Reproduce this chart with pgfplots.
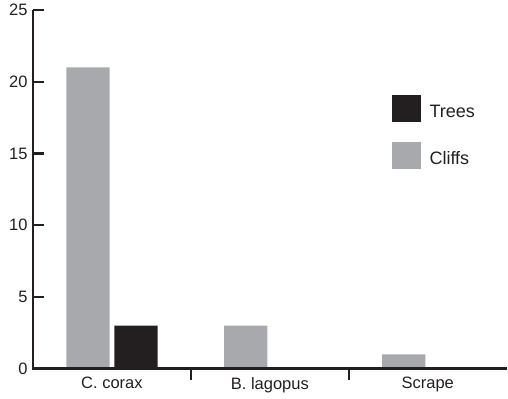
\documentclass[border=0pt]{standalone}
\usepackage{fontspec}
\setmainfont{Liberation Sans}
\usepackage{pgfplots}
\pgfplotsset{compat=1.18}

\definecolor{inkdark}{HTML}{231F20}
\definecolor{cliffgray}{HTML}{A7A9AC}

\begin{document}
\begin{tikzpicture}
\begin{axis}[
  scale only axis,
  clip=false,
  width=474pt, height=359pt,
  xmin=-0.5, xmax=2.5,
  ymin=0, ymax=25,
  axis line style={draw=none},
  tick align=inside,
  xtick pos=bottom, ytick pos=left,
  ytick={0,5,10,15,20,25},
  xtick={0.5,1.5},
  xticklabels={},
  extra x ticks={0,1,2},
  extra x tick labels={C. corax, B. lagopus, Scrape},
  extra x tick style={major tick length=0pt},
  major tick style={line width=2.4pt, draw=inkdark},
  major tick length=11pt,
  ticklabel style={font=\fontsize{16.5}{19}\selectfont, text=inkdark},
  /pgf/number format/assume math mode=true,
  yticklabel style={xshift=-2pt},
  xticklabel style={yshift=-5pt},
  ybar, bar width=0.274,
  legend style={draw=none, fill=none, at={(0.757,0.763)}, anchor=north west,
    font=\fontsize{18}{20}\selectfont, text=inkdark,
    row sep=20pt, inner sep=0pt, outer sep=0pt},
  legend cell align=left,
]
\addplot[fill=inkdark, draw=none, bar shift=0.152,
  area legend,
  legend image code/.code={\fill[inkdark] (0pt,-13.5pt) rectangle (29pt,13.5pt);}]
  coordinates {(0,3) (1,0) (2,0)};
\addplot[fill=cliffgray, draw=none, bar shift=-0.152,
  area legend,
  legend image code/.code={\fill[cliffgray] (0pt,-13.5pt) rectangle (29pt,13.5pt);}]
  coordinates {(0,21) (1,3) (2,1)};
\legend{\hspace{7pt}\raisebox{-7pt}{Trees}, \hspace{7pt}\raisebox{-7pt}{Cliffs}}
% left and bottom axis lines only
\draw[inkdark, line width=2.6pt]
  (rel axis cs:0,1) -- (rel axis cs:0,0) -- (rel axis cs:1,0);
\end{axis}
\path (-33pt,-30pt) rectangle (475pt,369pt);
\end{tikzpicture}
\end{document}
